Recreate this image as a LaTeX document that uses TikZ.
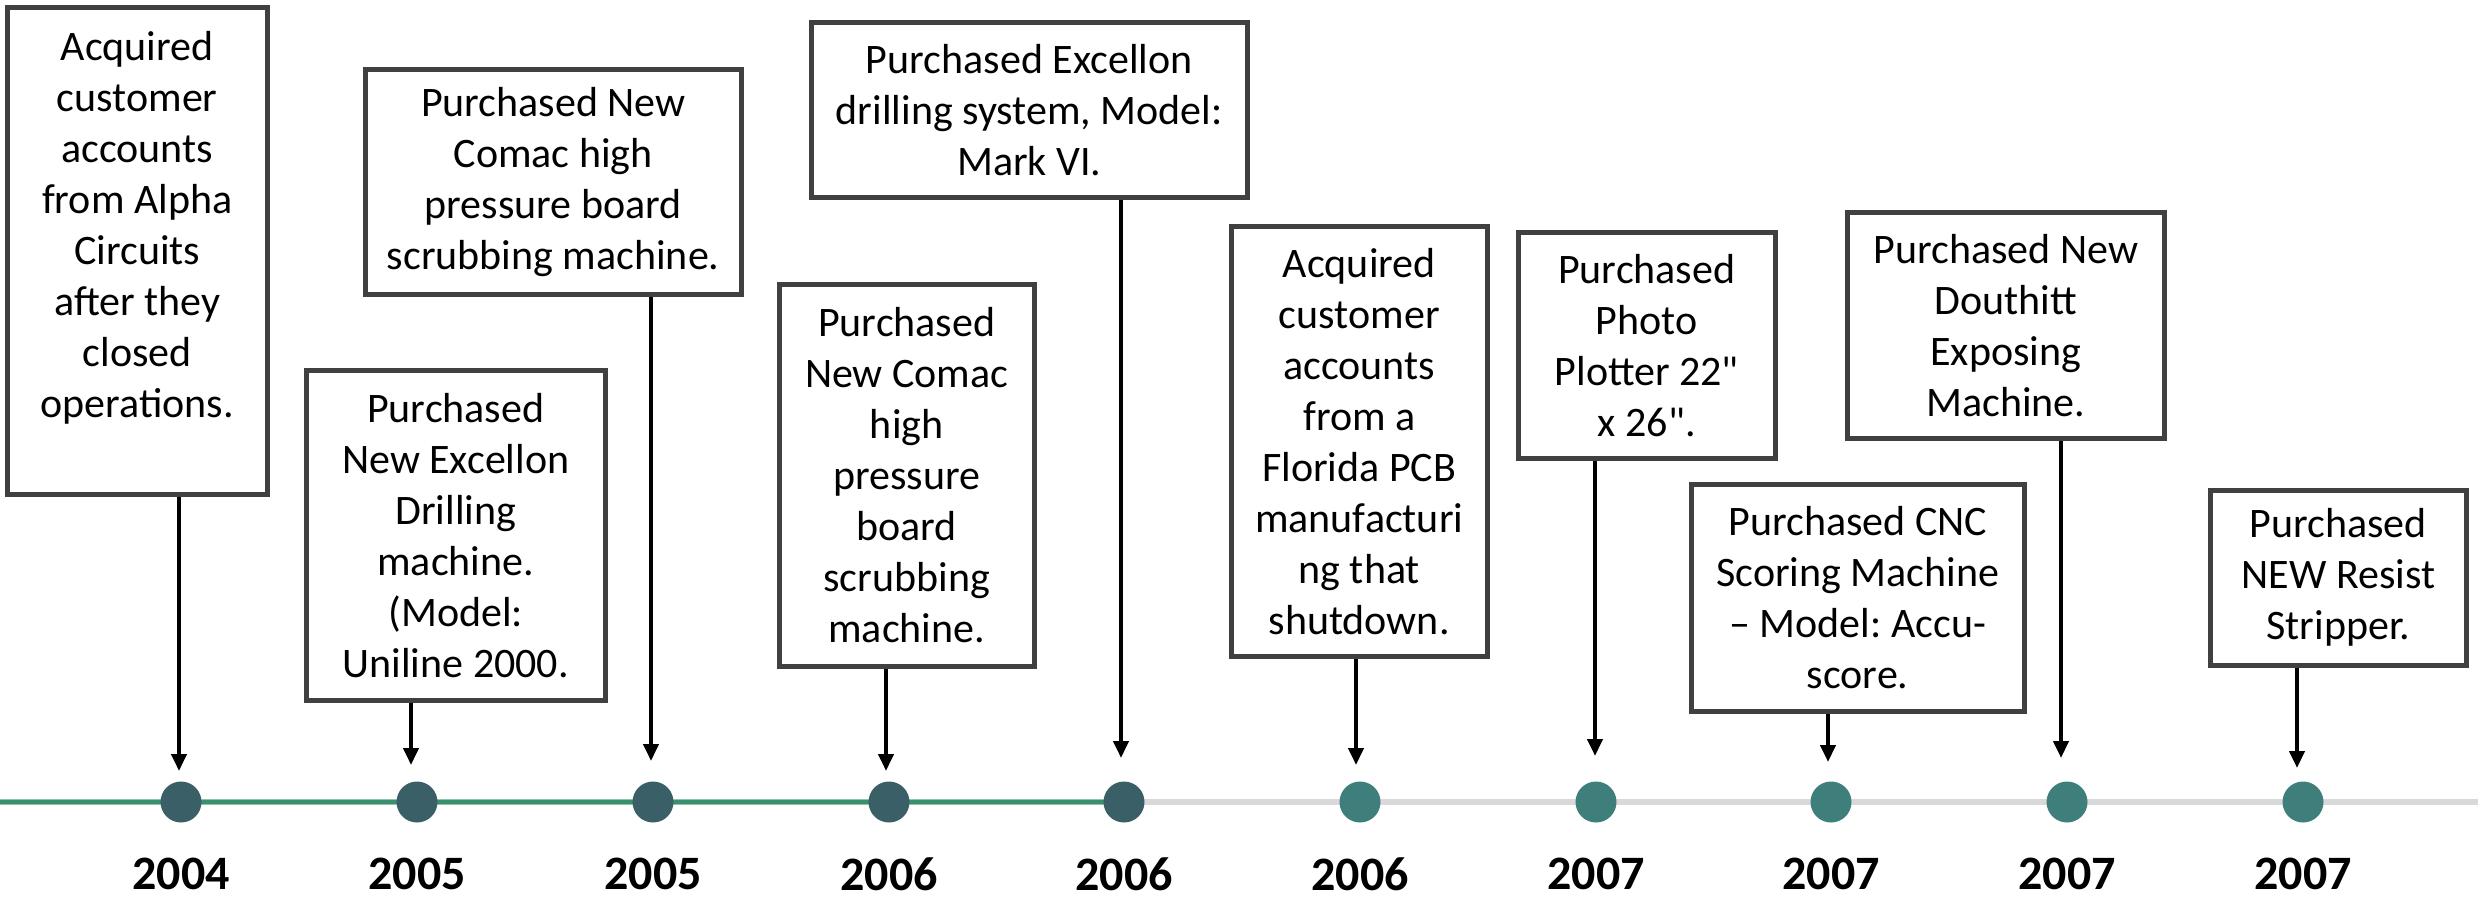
\documentclass[tikz,border=0pt]{standalone}
\usepackage{fontspec}
\setmainfont{Carlito}[Ligatures=TeXOff]
\usetikzlibrary{arrows.meta}
\definecolor{boxgray}{HTML}{404040}
\definecolor{tlgreen}{HTML}{3A8F6E}
\definecolor{tlgreenlight}{HTML}{8CC4AE}
\definecolor{tlgray}{HTML}{D9D9D9}
\definecolor{dotdark}{HTML}{3B5F66}
\definecolor{dotteal}{HTML}{3E7F7B}
\frenchspacing
\tikzset{
  evbox/.style={draw=boxgray, line width=4.5bp, fill=white, inner sep=0pt, align=center,
    font=\fontsize{42bp}{51bp}\selectfont},
  evtext/.style={inner sep=0pt, align=center, font=\fontsize{42bp}{51bp}\selectfont},
  yearlbl/.style={inner sep=0pt, font=\fontsize{48bp}{56bp}\selectfont\bfseries},
  dotd/.style={circle, fill=dotdark, minimum size=41bp, inner sep=0pt},
  dott/.style={circle, fill=dotteal, minimum size=41bp, inner sep=0pt},
  pointer/.style={draw=black, line width=4bp, -{Triangle[length=17bp,width=15bp]}},
}
\newcommand\evbox[6]{%
  \node[evbox, anchor=north west, minimum width={(#4-#2)*1bp}, minimum height={(#5-#3)*1bp}] (#1) at (#2,#3) {#6};}
\begin{document}
\begin{tikzpicture}[x=1bp,y=-1bp]
\useasboundingbox (0,0) rectangle (2478,898);
% timeline
\coordinate (L) at (0,802);
\coordinate (R) at (2478,802);
\foreach \i/\x in {1/181,2/417,3/653,4/889,5/1124,6/1360,7/1596,8/1831,9/2067,10/2303}
  \coordinate (c\i) at (\x,802);
\draw[tlgray, line width=5.5bp] (c5) -- (R);
\draw[tlgreenlight, line width=6bp] (L) -- (c5);
\draw[tlgreen, line width=3.5bp] (L) -- (c5);
% dots
\foreach \i in {1,...,5} \node[dotd] (d\i) at (c\i) {};
\foreach \i in {6,...,10} \node[dott] (d\i) at (c\i) {};
% years
\foreach \i/\yr in {1/2004,2/2005,3/2005,4/2006,5/2006,6/2006,7/2007,8/2007,9/2007,10/2007}
  \node[yearlbl] (y\i) at ([yshift=-72bp]c\i) {\yr};
% boxes
\node[evbox, anchor=north west, minimum width=260bp, minimum height=487bp] (b1) at (5,5) {};
\node[evtext, anchor=north] (b1t) at ([yshift=-26bp]b1.north) {Acquired\\customer\\accounts\\from Alpha\\Circuits\\after they\\closed\\operations.};
\evbox{b2}{304}{368}{603}{698}{Purchased\\New Excellon\\Drilling\\machine.\\(Model:\\Uniline 2000.}
\evbox{b3}{363}{67}{739}{292}{Purchased New\\Comac high\\pressure board\\scrubbing machine.}
\evbox{b4}{777}{282}{1032}{664}{Purchased\\New Comac\\high\\pressure\\board\\scrubbing\\machine.}
\evbox{b5}{809}{20}{1245}{195}{Purchased Excellon\\drilling system, Model:\\Mark VI.}
\evbox{b6}{1229}{224}{1485}{654}{Acquired\\customer\\accounts\\from a\\Florida PCB\\manufacturi\\ng that\\shutdown.}
\evbox{b7}{1516}{230}{1773}{456}{Purchased\\Photo\\Plotter 22"\\x 26".}
\evbox{b8}{1689}{482}{2022}{709}{Purchased CNC\\Scoring Machine\\– Model: Accu-\\score.}
\evbox{b9}{1845}{210}{2162}{436}{Purchased New\\Douthitt\\Exposing\\Machine.}
\evbox{b10}{2208}{488}{2464}{663}{Purchased\\NEW Resist\\Stripper.}
% arrow tips
\foreach \i/\x/\y in {1/179/771,2/411/765,3/651/761,4/886/771,5/1121/758,6/1356/765,7/1595/756,8/1828/762,9/2061/758,10/2297/768}
  \coordinate (t\i) at (\x,\y);
\foreach \i in {1,...,10}
  \draw[pointer] (b\i.south -| t\i) -- (t\i);
\end{tikzpicture}
\end{document}
